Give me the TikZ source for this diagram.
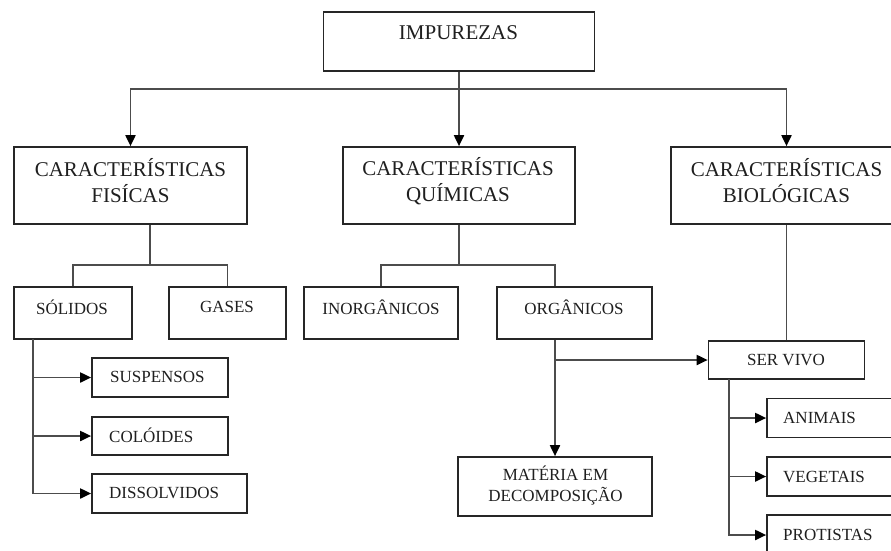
\documentclass[tikz,border=0pt]{standalone}
\usepackage{fontspec}
\setmainfont{Liberation Serif}
\usetikzlibrary{arrows.meta}
\tikzset{
  box/.style={draw=black!85, line width=1.7pt, fill=none, inner sep=0pt, anchor=center},
  bigtxt/.style={font=\fontsize{21}{26}\selectfont, text=black!88, align=center, inner sep=0pt},
  smalltxt/.style={font=\fontsize{17}{21}\selectfont, text=black!88, align=center, inner sep=0pt},
  lefttxt/.style={font=\fontsize{17}{21}\selectfont, text=black!88, inner sep=0pt, anchor=west},
  line/.style={draw=black!70, line width=1.9pt},
  arr/.style={line, -{Triangle[length=11pt,width=10pt,color=black]}}
}
\begin{document}
\begin{tikzpicture}[x=1pt,y=1pt]
\useasboundingbox (0,0) rectangle (891,-550);
\clip (0,0) rectangle (891,-550);
\fill[white] (0,0) rectangle (891,-550);

% boxes
\node[box, minimum width=271pt, minimum height=59pt] (imp) at (459,-41.5) {};
\node[box, minimum width=233pt, minimum height=77pt] (fis) at (130.5,-185.5) {};
\node[box, minimum width=232pt, minimum height=77pt] (qui) at (459,-185.5) {};
\node[box, minimum width=231pt, minimum height=77pt] (bio) at (786.5,-185.5) {};
\node[box, minimum width=118pt, minimum height=52pt] (sol) at (73,-313) {};
\node[box, minimum width=117pt, minimum height=52pt] (gas) at (227.5,-313) {};
\node[box, minimum width=154pt, minimum height=52pt] (ino) at (381,-313) {};
\node[box, minimum width=155pt, minimum height=52pt] (org) at (574.5,-313) {};
\node[box, minimum width=136pt, minimum height=39pt] (sus) at (160,-377.5) {};
\node[box, minimum width=136pt, minimum height=38pt] (col) at (160,-436) {};
\node[box, minimum width=155pt, minimum height=39pt] (dis) at (169.5,-493.5) {};
\node[box, minimum width=194pt, minimum height=59pt] (mat) at (555,-486.5) {};
\node[box, minimum width=156pt, minimum height=38pt] (ser) at (786.5,-360) {};
\node[box, minimum width=158pt, minimum height=39pt] (ani) at (846,-418) {};
\node[box, minimum width=158pt, minimum height=39pt] (veg) at (846,-476.5) {};
\node[box, minimum width=158pt, minimum height=40pt] (pro) at (846,-535) {};

% texts
\node[bigtxt] (impt) at (458.5,-33) {IMPUREZAS};
\node[bigtxt] (fist) at (130.5,-181) {CARACTERÍSTICAS\\FISÍCAS};
\node[bigtxt] (quit) at (458,-181) {CARACTERÍSTICAS\\QUÍMICAS};
\node[bigtxt] (biot) at (786.5,-181) {CARACTERÍSTICAS\\BIOLÓGICAS};
\node[smalltxt] (solt) at (72,-307) {SÓLIDOS};
\node[smalltxt] (gast) at (227,-307) {GASES};
\node[smalltxt] (inot) at (381,-307) {INORGÂNICOS};
\node[smalltxt] (orgt) at (574,-307) {ORGÂNICOS};
\node[lefttxt] (sust) at (110,-377) {SUSPENSOS};
\node[lefttxt] (colt) at (109,-435) {COLÓIDES};
\node[lefttxt] (dist) at (109,-493) {DISSOLVIDOS};
\node[smalltxt] (matt) at (555.5,-486) {MATÉRIA EM\\DECOMPOSIÇÃO};
\node[smalltxt] (sert) at (786,-360) {SER VIVO};
\node[lefttxt] (anit) at (783,-418) {ANIMAIS};
\node[lefttxt] (vegt) at (783,-477) {VEGETAIS};
\node[lefttxt] (prot) at (783,-535) {PROTISTAS};

% coordinates
\coordinate (bus) at (459,-89);
\coordinate (fisx) at (150,-265);
\coordinate (quix) at (459,-265);
\coordinate (sd) at (33,-339);
\coordinate (sv) at (729,-379);

% connectors
\draw[arr] (imp.south) -- (qui.north);
\draw[arr] (bus) -| (fis.north);
\draw[arr] (bus) -| (bio.north);

\draw[line] (fis.south -| fisx) -- (fisx);
\draw[line] (sol.north) |- (fisx) -| (gas.north);

\draw[line] (qui.south) -- (quix);
\draw[line] (ino.north) |- (quix) -| (org.north -| mat.north);

\draw[arr] (sd) |- (sus.west);
\draw[arr] (sd) |- (col.west);
\draw[arr] (sd) |- (dis.west);

\draw[arr] (org.south -| mat.north) -- (mat.north);
\draw[arr] (ser.west -| mat.north) -- (ser.west);

\draw[line] (bio.south) -- (ser.north);

\draw[arr] (sv) |- (ani.west);
\draw[arr] (sv) |- (veg.west);
\draw[arr] (sv) |- (pro.west);
\end{tikzpicture}
\end{document}
